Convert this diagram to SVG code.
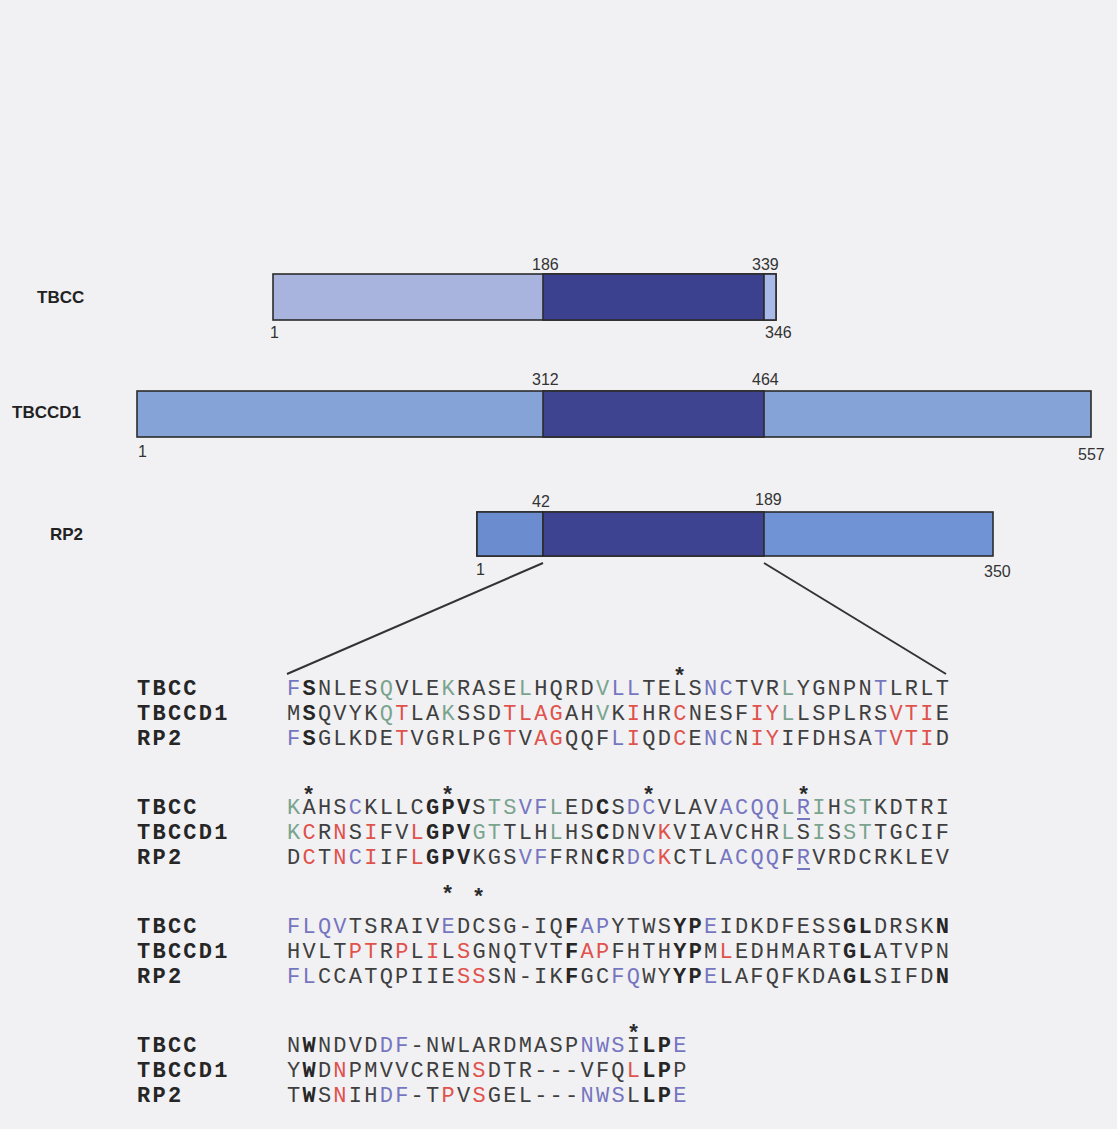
<svg xmlns="http://www.w3.org/2000/svg" width="1117" height="1129" viewBox="0 0 1117 1129">
<style>
.nm{font-family:"Liberation Sans",Arial,sans-serif;font-weight:bold;font-size:17px;fill:#222}
.num{font-family:"Liberation Sans",Arial,sans-serif;font-size:16px;fill:#333}
.bar{stroke:#2b2b2b;stroke-width:1.6}
.seq{font-family:"Liberation Mono","Courier New",monospace;font-size:22px;letter-spacing:2.24px;fill:#3f3f3f}
.lab{font-family:"Liberation Mono","Courier New",monospace;font-size:22px;letter-spacing:2.24px;font-weight:bold;fill:#262626}
.b{font-weight:bold;fill:#262626}
.r{fill:#e0524c}
.g{fill:#7aa48e}
.p{fill:#7676c0}
.ast{font-family:"Liberation Mono","Courier New",monospace;font-size:22px;font-weight:bold;fill:#2a2a2a}
.ln{stroke:#333;stroke-width:2;fill:none}
.ul{stroke:#7676c0;stroke-width:2}
</style>
<rect width="1117" height="1129" fill="#f1f1f4"/>

<g id="tbcc">
<text class="nm" x="37" y="303">TBCC</text>
<rect class="bar" x="273" y="274" width="503" height="46" fill="#a8b4dd"/>
<rect class="bar" x="543" y="274" width="221" height="46" fill="#3c418f"/>
<rect class="bar" x="764" y="274" width="12" height="46" fill="#a9b9e8"/>
<text class="num" x="532" y="270">186</text>
<text class="num" x="752" y="270">339</text>
<text class="num" x="270" y="338">1</text>
<text class="num" x="765" y="338">346</text>
</g>

<g id="tbccd1">
<text class="nm" x="12" y="418">TBCCD1</text>
<rect class="bar" x="137" y="391" width="954" height="46" fill="#86a3d8"/>
<rect class="bar" x="543" y="391" width="221" height="46" fill="#3e4490"/>
<text class="num" x="532" y="385">312</text>
<text class="num" x="752" y="385">464</text>
<text class="num" x="138" y="457">1</text>
<text class="num" x="1078" y="460">557</text>
</g>

<g id="rp2">
<text class="nm" x="50" y="540">RP2</text>
<rect class="bar" x="477" y="512" width="516" height="44" fill="#6f93d5"/>
<rect class="bar" x="477" y="512" width="66" height="44" fill="#6b8dcf"/>
<rect class="bar" x="543" y="512" width="221" height="44" fill="#3e4391"/>
<text class="num" x="532" y="507">42</text>
<text class="num" x="755" y="505">189</text>
<text class="num" x="476" y="575">1</text>
<text class="num" x="984" y="577">350</text>
</g>

<g id="connectors">
<line class="ln" x1="543" y1="563" x2="287" y2="674"/>
<line class="ln" x1="764" y1="563" x2="946" y2="674"/>
</g>

<g id="alignment-block-1">
<text class="ast" x="673" y="683">*</text>
<text class="lab" x="137" y="695">TBCC</text>
<text class="seq" x="287" y="695"><tspan class="p">F</tspan><tspan class="b">S</tspan>NLES<tspan class="g">Q</tspan>VLE<tspan class="g">K</tspan>RASE<tspan class="g">L</tspan>HQRD<tspan class="g">V</tspan><tspan class="p">LL</tspan>TELS<tspan class="p">NC</tspan>TVR<tspan class="g">L</tspan>YGNPN<tspan class="p">T</tspan>LRLT</text>
<text class="lab" x="137" y="720">TBCCD1</text>
<text class="seq" x="287" y="720">M<tspan class="b">S</tspan>QVYK<tspan class="g">Q</tspan><tspan class="r">T</tspan>LA<tspan class="g">K</tspan>SSD<tspan class="r">TLAG</tspan>AH<tspan class="g">V</tspan>K<tspan class="r">I</tspan>HR<tspan class="r">C</tspan>NESF<tspan class="r">IY</tspan><tspan class="g">L</tspan>LSPLRS<tspan class="r">VTI</tspan>E</text>
<text class="lab" x="137" y="745">RP2</text>
<text class="seq" x="287" y="745"><tspan class="p">F</tspan><tspan class="b">S</tspan>GLKDE<tspan class="r">T</tspan>VGRLPG<tspan class="r">T</tspan>V<tspan class="r">AG</tspan>QQF<tspan class="p">L</tspan><tspan class="r">I</tspan>QD<tspan class="r">C</tspan>E<tspan class="p">NC</tspan>N<tspan class="r">IY</tspan>IFDHSA<tspan class="p">T</tspan><tspan class="r">VTI</tspan>D</text>
</g>

<g id="alignment-block-2">
<text class="ast" x="302" y="802">*</text>
<text class="ast" x="441" y="802">*</text>
<text class="ast" x="642" y="802">*</text>
<text class="ast" x="797" y="802">*</text>
<text class="lab" x="137" y="814">TBCC</text>
<text class="seq" x="287" y="814"><tspan class="g">K</tspan>AHS<tspan class="p">C</tspan>KLLC<tspan class="b">GPV</tspan>S<tspan class="g">TS</tspan><tspan class="p">VF</tspan><tspan class="g">L</tspan>ED<tspan class="b">C</tspan>S<tspan class="p">DC</tspan>VLAV<tspan class="p">ACQQ</tspan><tspan class="g">L</tspan><tspan class="p">R</tspan><tspan class="g">I</tspan>H<tspan class="g">ST</tspan>KDTRI</text>
<line class="ul" x1="797" y1="819" x2="810" y2="819"/>
<text class="lab" x="137" y="839">TBCCD1</text>
<text class="seq" x="287" y="839"><tspan class="g">K</tspan><tspan class="r">C</tspan>R<tspan class="r">N</tspan>S<tspan class="r">I</tspan>FV<tspan class="r">L</tspan><tspan class="b">GPV</tspan><tspan class="g">GT</tspan>TLH<tspan class="g">L</tspan>HS<tspan class="b">C</tspan>DNV<tspan class="r">K</tspan>VIAVCHR<tspan class="g">L</tspan>S<tspan class="g">I</tspan>S<tspan class="g">ST</tspan>TGCIF</text>
<text class="lab" x="137" y="864">RP2</text>
<text class="seq" x="287" y="864">D<tspan class="r">C</tspan>T<tspan class="r">N</tspan><tspan class="p">C</tspan><tspan class="r">I</tspan>IF<tspan class="r">L</tspan><tspan class="b">GPV</tspan>KGS<tspan class="p">VF</tspan>FRN<tspan class="b">C</tspan>R<tspan class="p">DC</tspan><tspan class="r">K</tspan>CTL<tspan class="p">ACQQ</tspan>F<tspan class="p">R</tspan>VRDCRKLEV</text>
<line class="ul" x1="797" y1="869" x2="810" y2="869"/>
</g>

<g id="alignment-block-3">
<text class="ast" x="441" y="901">*</text>
<text class="ast" x="472" y="904">*</text>
<text class="lab" x="137" y="933">TBCC</text>
<text class="seq" x="287" y="933"><tspan class="p">FLQV</tspan>TSRAIV<tspan class="p">E</tspan>DCSG-IQ<tspan class="b">F</tspan><tspan class="p">AP</tspan>YTWS<tspan class="b">YP</tspan><tspan class="p">E</tspan>IDKDFESS<tspan class="b">GL</tspan>DRSK<tspan class="b">N</tspan></text>
<text class="lab" x="137" y="958">TBCCD1</text>
<text class="seq" x="287" y="958">HVLT<tspan class="r">P</tspan><tspan class="r">T</tspan>R<tspan class="r">P</tspan>L<tspan class="r">I</tspan>L<tspan class="r">S</tspan>GNQTVT<tspan class="b">F</tspan><tspan class="r">AP</tspan>FHTH<tspan class="b">YP</tspan>M<tspan class="r">L</tspan>EDHMART<tspan class="b">GL</tspan>ATVPN</text>
<text class="lab" x="137" y="983">RP2</text>
<text class="seq" x="287" y="983"><tspan class="p">FL</tspan>CCATQPIIE<tspan class="r">SS</tspan>SN-IK<tspan class="b">F</tspan>GC<tspan class="p">FQ</tspan>WY<tspan class="b">YP</tspan><tspan class="p">E</tspan>LAFQFKDA<tspan class="b">GL</tspan>SIFD<tspan class="b">N</tspan></text>
</g>

<g id="alignment-block-4">
<text class="ast" x="627" y="1040">*</text>
<text class="lab" x="137" y="1052">TBCC</text>
<text class="seq" x="287" y="1052">N<tspan class="b">W</tspan>NDVD<tspan class="p">DF</tspan>-NWLARDMASP<tspan class="p">NWS</tspan>I<tspan class="b">LP</tspan><tspan class="p">E</tspan></text>
<text class="lab" x="137" y="1077">TBCCD1</text>
<text class="seq" x="287" y="1077">Y<tspan class="b">W</tspan>D<tspan class="r">N</tspan>PMVVCREN<tspan class="r">S</tspan>DTR---VFQ<tspan class="r">L</tspan><tspan class="b">LP</tspan>P</text>
<text class="lab" x="137" y="1102">RP2</text>
<text class="seq" x="287" y="1102">T<tspan class="b">W</tspan>S<tspan class="r">N</tspan>IH<tspan class="p">DF</tspan>-T<tspan class="r">P</tspan>V<tspan class="r">S</tspan>GEL---<tspan class="p">NWS</tspan>L<tspan class="b">LP</tspan><tspan class="p">E</tspan></text>
</g>
</svg>
